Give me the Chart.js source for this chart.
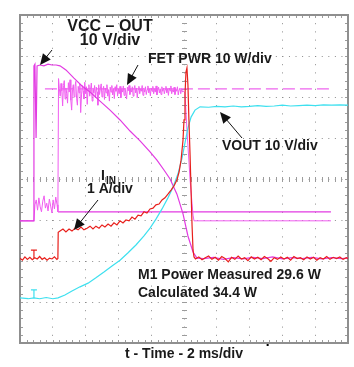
<!DOCTYPE html>
<html>
<head>
<meta charset="utf-8">
<script src="https://cdn.jsdelivr.net/npm/chart.js@4/dist/chart.umd.min.js"></script>
<style>
  html, body { margin: 0; padding: 0; background: #fff; }
  #wrap { width: 354px; height: 367px; }
</style>
</head>
<body>
<div id="wrap"><canvas id="scope"></canvas></div>
<script>
// time in ms (2 ms/div), amplitude in screen divisions (0 = bottom graticule line)
const vccOut = [[0,2.98],[0.82,2.98],[0.85,6.76],[0.91,6.80],[0.98,5.00],[1.04,6.76],[1.22,6.78],[1.46,6.76],[1.71,6.80],[1.95,6.78],[2.20,6.78],[2.44,6.76],[2.80,6.66],[3.29,6.46],[3.78,6.27],[4.27,6.12],[4.88,5.90],[5.49,5.68],[6.10,5.44],[6.71,5.17],[7.32,4.93],[7.93,4.66],[8.35,4.46],[8.78,4.22],[9.15,4.00],[9.57,3.63],[9.94,3.15],[10.24,2.61],[10.55,2.22],[10.79,2.07],[11.2,2.06],[11.8,2.09],[12.4,2.04],[13.0,2.08],[13.6,2.05],[14.2,2.09],[14.8,2.06],[15.4,2.10],[16.0,2.05],[16.6,2.08],[17.2,2.06],[17.8,2.09],[18.4,2.05],[19.0,2.08],[19.6,2.06],[20,2.07]];

const fetPwr = [[0,2.98],[0.85,2.98],[0.91,3.37],[0.99,3.49],[1.07,3.24],[1.15,3.54],[1.23,3.32],[1.31,3.20],[1.39,3.46],[1.47,3.59],[1.55,3.29],[1.63,3.41],[1.71,3.22],[1.79,3.51],[1.87,3.34],[1.95,3.17],[2.02,3.49],[2.10,3.27],[2.18,3.56],[2.26,3.37],[2.31,3.20],
  [2.35,6.45],[2.40,6.20],[2.45,6.02],[2.50,6.33],[2.55,6.15],[2.60,5.78],[2.65,6.28],[2.70,6.40],[2.75,5.95],[2.80,6.22],[2.85,6.08],[2.90,5.85],[2.95,6.35],[3.00,6.12],[3.05,6.42],[3.10,5.92],[3.15,5.68],[3.20,6.18],[3.25,6.30],[3.30,6.00],[3.35,6.25],[3.40,6.38],[3.45,5.97],[3.50,5.80],[3.55,6.26],[3.60,6.10],[3.65,6.32],[3.70,5.62],[3.75,6.05],[3.80,6.28],[3.85,6.15],[3.90,5.95],[3.95,6.36],[4.00,6.08],[4.05,6.25],[4.10,5.82],[4.15,6.20],[4.20,6.30],[4.25,6.02],[4.30,6.18],[4.35,6.34],[4.40,5.90],[4.45,6.22],[4.50,6.10],[4.55,6.28],[4.60,5.98],[4.65,6.24],[4.70,6.12],[4.75,5.80],[4.80,6.30],[4.85,6.06],[4.90,6.20],[4.95,6.32],[5.00,6.00],
  [5.05,6.16],[5.10,6.26],[5.15,5.94],[5.20,6.22],[5.25,6.10],[5.30,6.30],[5.35,6.02],[5.40,6.18],[5.45,5.90],[5.50,6.24],[5.55,6.12],[5.60,6.28],[5.65,6.05],[5.70,6.20],[5.75,5.96],[5.80,6.25],[5.85,6.14],[5.90,6.30],[5.95,6.02],[6.00,6.18],[6.05,6.08],[6.10,6.26],[6.15,5.98],[6.20,6.20],[6.25,6.12],[6.30,6.27],[6.35,6.04],[6.40,6.22],[6.45,6.10],[6.50,5.95],[6.55,6.24],[6.60,6.15],[6.65,6.28],[6.70,6.06],[6.75,6.20],[6.80,6.12],[6.85,6.25],[6.90,6.02],[6.95,6.19],[7.00,6.28],[7.05,6.10],[7.10,6.22],[7.15,5.98],[7.20,6.18],[7.25,6.26],[7.30,6.08],[7.35,6.20],[7.40,6.14],[7.45,6.28],[7.50,6.04],
  [7.55,6.22],[7.60,6.12],[7.65,6.25],[7.70,6.06],[7.75,6.18],[7.80,6.27],[7.85,6.10],[7.90,6.20],[7.95,6.03],[8.00,6.22],[8.05,6.14],[8.10,6.26],[8.15,6.08],[8.20,6.20],[8.25,6.12],[8.30,6.27],[8.35,6.05],[8.40,6.18],[8.45,6.24],[8.50,6.10],[8.55,6.20],[8.60,6.06],[8.65,6.25],[8.70,6.14],[8.75,6.22],[8.80,6.08],[8.85,6.18],[8.90,6.26],[8.95,6.10],[9.00,6.20],[9.05,6.04],[9.10,6.22],[9.15,6.15],[9.20,6.27],[9.25,6.08],[9.30,6.18],[9.35,6.12],[9.40,6.24],[9.45,6.06],[9.50,6.20],[9.55,6.14],[9.60,6.25],[9.65,6.05],[9.70,6.18],[9.75,6.22],[9.80,6.08],[9.85,6.20],[9.90,6.12],[9.95,6.15],
  [10.06,6.10],[10.18,5.20],[10.37,3.98],[10.55,3.12],[10.61,2.98],[18.96,2.98]];

const fetPwrAvg = [[1.52,6.20],[18.96,6.20]];   // M1 measured 29.6 W
const fetPwrRef = [[2.32,3.20],[18.96,3.20]];

const iIn = [[0,2.07],[0.15,2.02],[0.3,2.10],[0.45,2.04],[0.6,2.09],[0.75,2.03],[0.9,2.08],[1.05,2.05],[1.2,2.11],[1.35,2.04],[1.5,2.08],[1.65,2.02],[1.8,2.07],[1.95,2.05],[2.1,2.10],[2.25,2.04],[2.31,2.06],
  [2.33,2.70],[2.44,2.73],[2.62,2.78],[2.80,2.71],[2.99,2.78],[3.17,2.73],[3.35,2.80],[3.54,2.76],[3.72,2.83],[3.90,2.76],[4.09,2.80],[4.27,2.85],[4.45,2.78],[4.63,2.85],[4.82,2.80],[5.00,2.88],[5.18,2.83],[5.37,2.90],[5.55,2.85],[5.73,2.93],[5.91,2.88],[6.10,2.98],[6.28,2.93],[6.46,3.00],[6.65,2.98],[6.83,3.07],[7.01,3.02],[7.20,3.12],[7.38,3.10],[7.56,3.20],[7.74,3.17],[7.93,3.27],[8.11,3.29],[8.29,3.37],[8.48,3.39],[8.66,3.49],[8.84,3.54],[9.02,3.63],[9.21,3.73],[9.39,3.83],[9.57,3.98],[9.70,4.17],[9.82,4.46],[9.94,4.95],[10.00,5.44],[10.06,6.05],[10.12,6.61],[10.18,6.71],[10.24,6.29],[10.30,5.44],[10.37,4.59],[10.43,3.73],[10.49,2.88],[10.55,2.27],[10.61,2.10],
  [10.7,2.05],[10.9,2.10],[11.1,2.03],[11.3,2.08],[11.5,2.12],[11.7,2.04],[11.9,2.09],[12.1,2.02],[12.3,2.11],[12.5,2.06],[12.7,1.98],[12.9,2.09],[13.1,2.04],[13.3,2.12],[13.5,2.05],[13.7,2.08],[13.9,2.01],[14.1,2.10],[14.3,2.05],[14.5,2.09],[14.7,2.03],[14.9,2.11],[15.1,2.06],[15.3,1.99],[15.5,2.08],[15.7,2.04],[15.9,2.10],[16.1,2.05],[16.3,2.09],[16.5,2.02],[16.7,2.11],[16.9,2.06],[17.1,2.08],[17.3,2.03],[17.5,2.10],[17.7,2.05],[17.9,2.09],[18.1,2.02],[18.3,2.08],[18.5,2.05],[18.7,2.11],[18.9,2.04],[19.1,2.09],[19.3,2.06],[19.5,2.10],[19.7,2.04],[19.9,2.08],[20,2.06]];

const vOut = [[0,1.10],[0.5,1.08],[0.85,1.10],[1.2,1.08],[1.6,1.11],[2.0,1.08],[2.32,1.10],[2.74,1.17],[3.17,1.27],[3.66,1.37],[4.15,1.46],[4.63,1.59],[5.12,1.73],[5.61,1.88],[6.10,2.02],[6.59,2.20],[7.07,2.39],[7.56,2.61],[7.93,2.80],[8.29,3.02],[8.66,3.27],[9.02,3.54],[9.33,3.80],[9.63,4.12],[9.88,4.51],[10.06,4.88],[10.24,5.24],[10.43,5.51],[10.67,5.68],[10.98,5.76],[11.5,5.75],[12,5.77],[12.5,5.76],[13,5.78],[13.5,5.76],[14,5.77],[14.5,5.79],[15,5.77],[15.5,5.78],[16,5.80],[16.5,5.78],[17,5.79],[17.5,5.80],[18,5.79],[18.5,5.81],[19,5.80],[19.5,5.81],[20,5.80]];

const xDivs = 10, yDivs = 8, msPerDiv = 2;

const toXY = pts => pts.map(p => ({ x: p[0], y: p[1] }));

const trace = (data, color, extra) => Object.assign({
    data: toXY(data),
    borderColor: color,
    borderWidth: 1.2,
    pointRadius: 0,
    showLine: true,
    tension: 0,
    fill: false
}, extra || {});

// graticule border, minor ticks, markers, labels, arrows
const scopeDecor = {
    id: 'scopeDecor',
    beforeDatasetsDraw(chart) {
        const { ctx, chartArea: a } = chart;
        const dx = (a.right - a.left) / xDivs / 5;
        const dy = (a.bottom - a.top) / yDivs / 5;
        const cx = (a.left + a.right) / 2;
        const cy = (a.top + a.bottom) / 2;
        ctx.save();
        ctx.strokeStyle = '#9c9c9c';
        ctx.lineWidth = 1;
        ctx.beginPath();
        for (let i = 1; i < xDivs * 5; i++) {
            const x = Math.round(a.left + i * dx) + 0.5;
            ctx.moveTo(x, a.top); ctx.lineTo(x, a.top + 3);
            ctx.moveTo(x, a.bottom); ctx.lineTo(x, a.bottom - 3);
            ctx.moveTo(x, Math.round(cy) - 2); ctx.lineTo(x, Math.round(cy) + 3);
        }
        for (let i = 1; i < yDivs * 5; i++) {
            const y = Math.round(a.top + i * dy) + 0.5;
            ctx.moveTo(a.left, y); ctx.lineTo(a.left + 3, y);
            ctx.moveTo(a.right, y); ctx.lineTo(a.right - 3, y);
            ctx.moveTo(Math.round(cx) - 2, y); ctx.lineTo(Math.round(cx) + 3, y);
        }
        ctx.stroke();
        ctx.lineWidth = 2;
        ctx.strokeStyle = '#8f8f8f';
        ctx.strokeRect(a.left, a.top, a.right - a.left, a.bottom - a.top);
        ctx.restore();
    },
    afterDraw(chart) {
        const { ctx, scales: { x, y } } = chart;
        ctx.save();
        // channel ground markers
        const tee = (t, v, color) => {
            const px = x.getPixelForValue(t), py = y.getPixelForValue(v);
            ctx.strokeStyle = color;
            ctx.lineWidth = 1.2;
            ctx.beginPath();
            ctx.moveTo(px - 3, py - 8); ctx.lineTo(px + 3, py - 8);
            ctx.moveTo(px, py - 8); ctx.lineTo(px, py);
            ctx.stroke();
        };
        tee(0.85, 2.07, '#e8201c');
        tee(0.85, 1.10, '#3ee0ef');
        ctx.fillStyle = '#000';
        ctx.fillRect(x.getPixelForValue(15.1) - 1, chart.chartArea.bottom + 1, 2, 2);

        const arrow = (x1, y1, x2, y2) => {
            const ang = Math.atan2(y2 - y1, x2 - x1);
            const len = 11, w = 5;
            ctx.strokeStyle = '#111';
            ctx.fillStyle = '#111';
            ctx.lineWidth = 1;
            ctx.beginPath();
            ctx.moveTo(x1, y1);
            ctx.lineTo(x2 - Math.cos(ang) * len * 0.8, y2 - Math.sin(ang) * len * 0.8);
            ctx.stroke();
            ctx.beginPath();
            ctx.moveTo(x2, y2);
            ctx.lineTo(x2 - Math.cos(ang) * len - Math.sin(ang) * w, y2 - Math.sin(ang) * len + Math.cos(ang) * w);
            ctx.lineTo(x2 - Math.cos(ang) * len + Math.sin(ang) * w, y2 - Math.sin(ang) * len - Math.cos(ang) * w);
            ctx.closePath();
            ctx.fill();
        };
        arrow(52, 50, 40, 65);
        arrow(138, 65, 127, 85);
        arrow(242, 138, 220, 112);
        arrow(98, 200, 74, 230);

        ctx.fillStyle = '#1a1a1a';
        ctx.textBaseline = 'alphabetic';
        ctx.font = 'bold 16px "Liberation Sans", Arial, sans-serif';
        ctx.textAlign = 'center';
        ctx.fillText('VCC – OUT', 110, 31);
        ctx.fillText('10 V/div', 110, 45);
        ctx.textAlign = 'left';
        ctx.font = 'bold 14px "Liberation Sans", Arial, sans-serif';
        ctx.fillText('FET PWR 10 W/div', 148, 63);
        ctx.fillText('VOUT 10 V/div', 222, 150);
        ctx.fillText('I', 101, 180);
        ctx.fillText('1 A/div', 87, 193);
        ctx.fillText('M1 Power Measured 29.6 W', 138, 279);
        ctx.fillText('Calculated 34.4 W', 138, 297);
        ctx.font = 'bold 10px "Liberation Sans", Arial, sans-serif';
        ctx.fillText('IN', 106, 184);
        ctx.restore();
    }
};

new Chart(document.getElementById('scope'), {
    type: 'scatter',
    data: {
        datasets: [
            trace(iIn, '#e8201c'),
            trace(vOut, '#3ee0ef'),
            trace(vccOut, '#e23ae2'),
            trace(fetPwr, '#f05cf0', { borderWidth: 1 }),
            trace(fetPwrAvg, '#ee66ee', { borderDash: [12, 5] }),
            trace(fetPwrRef, '#e23ae2')
        ]
    },
    options: {
        responsive: true,
        maintainAspectRatio: false,
        animation: false,
        layout: { padding: { left: 20, top: 15, right: 6, bottom: 4.6 } },
        plugins: { legend: { display: false }, tooltip: { enabled: false } },
        scales: {
            x: {
                type: 'linear',
                min: 0,
                max: xDivs * msPerDiv,
                ticks: { display: false, stepSize: msPerDiv },
                grid: { color: '#8c8c8c', lineWidth: 1, drawTicks: false },
                border: { display: false, dash: [1, 7.2] },
                title: {
                    display: true,
                    text: 't - Time - 2 ms/div',
                    color: '#1a1a1a',
                    font: { family: '"Liberation Sans", Arial, sans-serif', size: 14, weight: 'bold' },
                    padding: { top: 2.6, bottom: 0 }
                }
            },
            y: {
                type: 'linear',
                min: 0,
                max: yDivs,
                ticks: { display: false, stepSize: 1 },
                grid: { color: '#8c8c8c', lineWidth: 1, drawTicks: false },
                border: { display: false, dash: [1, 5.56] }
            }
        }
    },
    plugins: [scopeDecor]
});
</script>
</body>
</html>
